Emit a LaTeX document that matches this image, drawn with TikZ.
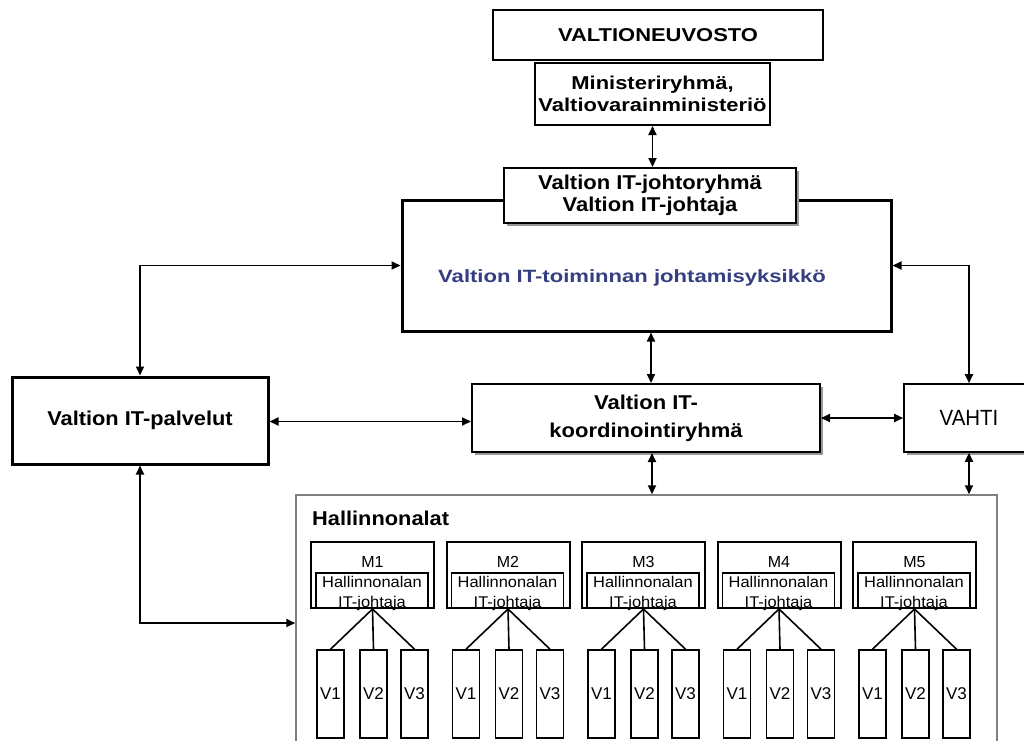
\documentclass[tikz,border=0pt]{standalone}
\usepackage{fontspec}
\setmainfont{Liberation Sans}
\usepackage{graphicx}
\usetikzlibrary{arrows.meta,shadows}
\definecolor{bluetxt}{RGB}{52,62,128}
\definecolor{halgray}{RGB}{128,128,128}
\newcommand{\hs}[2]{\scalebox{#1}[1]{#2}}
\newcommand{\fs}[2]{\fontsize{#1}{#2}\selectfont}
\begin{document}
\begin{tikzpicture}[x=1pt,y=-1pt,
  box/.style={draw, fill=white, inner sep=0pt, align=center},
  shad/.style={drop shadow={shadow xshift=3pt, shadow yshift=-3pt, fill=black!40, opacity=1}},
  arr/.style={line width=1.8pt, {Triangle[length=9pt,width=8pt]}-{Triangle[length=9pt,width=8pt]}},
  conn/.style={line width=1.6pt},
  mbox/.style={draw, line width=2pt, minimum width=123pt, minimum height=66pt, inner sep=0pt},
  ibox/.style={draw, line width=1.6pt, minimum width=112pt, minimum height=35pt, inner sep=0pt},
  vbox/.style={draw, line width=1.6pt, minimum width=27pt, minimum height=88pt, inner sep=0pt, font=\fs{17}{20}},
  mtxt/.style={inner sep=0pt, font=\fs{16}{18}},
  itxt/.style={inner sep=0pt, align=center, font=\fs{15.5}{20}}
]
\useasboundingbox (0,0) rectangle (1024,740);
\fill[white] (0,0) rectangle (1024,740);
\clip (0,0) rectangle (1024,740);

% top boxes
\node[box, line width=2pt, minimum width=330pt, minimum height=50pt, font=\fs{18.6}{22.6}\bfseries]
  (vn) at (658,35) {\hs{1.18}{VALTIONEUVOSTO}};
\node[box, line width=2pt, minimum width=235pt, minimum height=62pt, font=\fs{18.6}{22.6}\bfseries]
  (min) at (652.5,94) {\hs{1.18}{Ministeriryhmä,}\\\hs{1.18}{Valtiovarainministeriö}};

% big unit box
\node[box, line width=3pt, minimum width=489pt, minimum height=131pt] (big) at (646.5,265.5) {};
\node[inner sep=0pt, text=bluetxt, font=\fs{17.8}{21}\bfseries] (bigtxt) at (632,278)
  {\hs{1.24}{Valtion IT-toiminnan johtamisyksikkö}};
\node[box, shad, line width=2pt, minimum width=292pt, minimum height=55pt, font=\fs{20}{21.6}\bfseries]
  (jr) at (650,195.5) {\hs{1.1}{Valtion IT-johtoryhmä}\\\hs{1.1}{Valtion IT-johtaja}};

% middle row
\node[box, line width=3pt, minimum width=256pt, minimum height=87pt, font=\fs{20}{24}\bfseries]
  (pal) at (140,420.5) {\hs{1.09}{Valtion IT-palvelut}};
\node[box, shad, line width=2pt, minimum width=348pt, minimum height=68pt, font=\fs{20}{28}\bfseries]
  (ko) at (646,418) {\hs{1.1}{Valtion IT-}\\\hs{1.1}{koordinointiryhmä}};
\node[box, shad, line width=1.6pt, minimum width=130pt, minimum height=68pt, font=\fs{22}{26}]
  (vahti) at (969,418) {\hs{0.93}{VAHTI}};

% Hallinnonalat
\node[draw=halgray, line width=1.5pt, fill=white, minimum width=701pt, minimum height=265pt, inner sep=0pt]
  (hal) at (646.5,627.5) {};
\node[anchor=base west, inner sep=0pt, font=\fs{20}{24}\bfseries] (haltxt) at (312,525)
  {\hs{1.09}{Hallinnonalat}};

\foreach \i in {1,...,5} {
  \pgfmathsetmacro{\L}{311+135.5*(\i-1)}
  \node[mbox] (m\i) at (\L+61.5,575) {};
  \node[ibox] (in\i) at (\L+61,590.5) {};
  \node[mtxt] (ml\i) at (\L+61.5,562) {M\i};
  \node[itxt] (it\i) at (\L+61,593) {\hs{1.06}{Hallinnonalan}\\\hs{1.06}{IT-johtaja}};
  \node[vbox] (va\i) at (\L+19.5,694) {V1};
  \node[vbox] (vb\i) at (\L+62.5,694) {V2};
  \node[vbox] (vc\i) at (\L+103.5,694) {V3};
  \draw[conn] (m\i.south) -- (va\i.north);
  \draw[conn] (m\i.south) -- (vb\i.north);
  \draw[conn] (m\i.south) -- (vc\i.north);
}

% connectors
\draw[arr] (min.south) -- (min.south |- jr.north);
\draw[arr] ([xshift=4.5pt]big.south) -- ([xshift=4.5pt]big.south |- ko.north);
\draw[arr] ([xshift=6pt]ko.south) -- ([xshift=6pt]ko.south |- hal.north);
\draw[arr] ([yshift=-1pt]pal.east) -- ([yshift=-1pt]pal.east -| ko.west);
\draw[arr] (ko.east) -- (vahti.west);
\draw[arr] (vahti.south) -- (vahti.south |- hal.north);
\draw[arr] (pal.north) |- (big.west);
\draw[arr] (big.east) -| (vahti.north);
\draw[arr] (pal.south) |- ([yshift=4.5pt]hal.west);
\end{tikzpicture}
\end{document}
